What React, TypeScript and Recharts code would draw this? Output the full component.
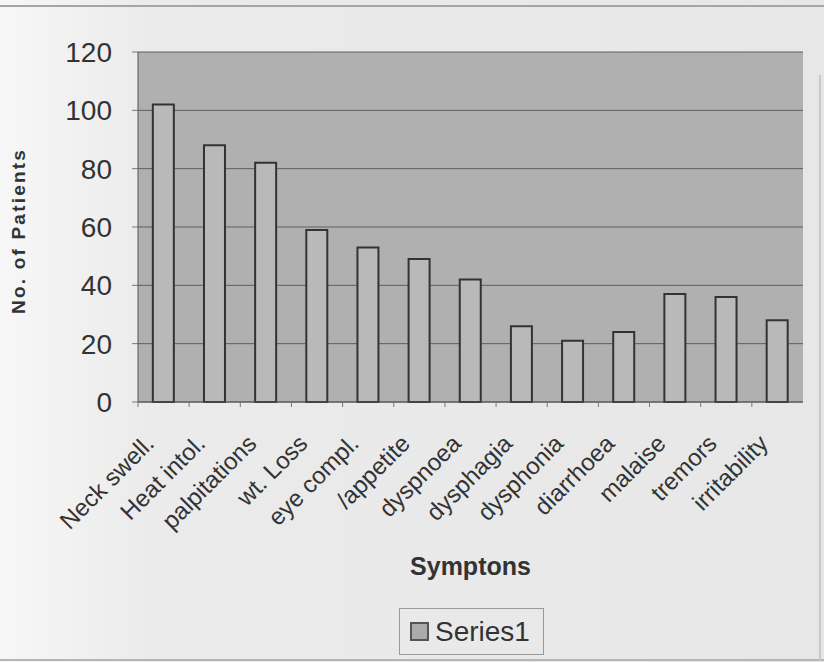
import { BarChart, Bar, XAxis, YAxis, CartesianGrid, Legend } from "recharts"

const symptoms = [
  "Neck swell.",
  "Heat intol.",
  "palpitations",
  "wt. Loss",
  "eye compl.",
  "/appetite",
  "dyspnoea",
  "dysphagia",
  "dysphonia",
  "diarrhoea",
  "malaise",
  "tremors",
  "irritability",
]

const patients = [102, 88, 82, 59, 53, 49, 42, 26, 21, 24, 37, 36, 28]

const yTicks = [0, 20, 40, 60, 80, 100, 120]

const data = symptoms.map((name, i) => ({ name, Series1: patients[i] }))

const font = "'Liberation Sans', Arial, sans-serif"

const SymptomTick = (props: any) => {
  const { x, y, payload } = props
  const half = payload.offset || 0
  return (
    <g>
      <line x1={x - half} y1={y - 5} x2={x - half} y2={y} stroke="#777" />
      <g transform={`translate(${x - 8},${y + 38})`}>
        <text
          x={0}
          y={0}
          textAnchor="end"
          transform="rotate(-45)"
          fontSize={24}
          fontFamily={font}
          fill="#333"
        >
          {payload.value}
        </text>
      </g>
    </g>
  )
}

const SeriesLegend = () => (
  <div style={{ display: "flex", justifyContent: "flex-start", paddingLeft: 399 }}>
    <div
      style={{
        display: "flex",
        alignItems: "center",
        height: 47,
        boxSizing: "border-box",
        padding: "0 13px 0 10px",
        border: "1px solid #9a9a9a",
        fontFamily: font,
        fontSize: 28,
        color: "#333",
      }}
    >
      <span
        style={{
          display: "inline-block",
          width: 15,
          height: 15,
          background: "#ababab",
          border: "2px solid #555",
          marginRight: 6,
        }}
      />
      Series1
    </div>
  </div>
)

export default function App() {
  return (
    <div
      style={{
        position: "absolute",
        left: 0,
        top: 0,
        width: 824,
        height: 662,
        background: "linear-gradient(to right, #f7f7f7 0%, #ebebeb 18%, #e7e7e7 100%)",
        overflow: "hidden",
      }}
    >
      <div style={{ position: "absolute", left: 0, top: 5, width: 824, height: 2, background: "#a5a5a5" }} />
      <div style={{ position: "absolute", left: 0, top: 659, width: 824, height: 2, background: "#b5b5b5" }} />
      <div style={{ position: "absolute", left: 819, top: 75, width: 2, height: 585, background: "#c8c8c8" }} />
      <BarChart
        width={824}
        height={662}
        data={data}
        margin={{ top: 52, right: 21, left: 0, bottom: 0 }}
        barCategoryGap="29%"
      >
        <CartesianGrid
          vertical={false}
          stroke="#5e5e5e"
          fill="#b0b0b0"
          fillOpacity={1}
        />
        <XAxis
          dataKey="name"
          interval={0}
          height={213}
          tickLine={false}
          tickSize={5}
          tickMargin={0}
          axisLine={{ stroke: "#555" }}
          tick={<SymptomTick />}
          label={{
            value: "Symptons",
            position: "insideBottom",
            offset: 40,
            fontSize: 25,
            fontWeight: "bold",
            fontFamily: font,
            fill: "#333",
          }}
        />
        <YAxis
          width={138}
          domain={[0, 120]}
          ticks={yTicks}
          interval={0}
          tickSize={6}
          tickMargin={20}
          axisLine={{ stroke: "#555" }}
          tickLine={{ stroke: "#777" }}
          tick={{ fontSize: 28, fontFamily: font, fill: "#333" }}
          label={{
            content: (p: any) => {
              const vb = p.viewBox
              const cx = vb.x + 18
              const cy = vb.y + vb.height / 2 + 4
              return (
                <text
                  x={cx}
                  y={cy}
                  textAnchor="middle"
                  dominantBaseline="central"
                  transform={`rotate(-90, ${cx}, ${cy})`}
                  fontSize={19}
                  fontWeight="bold"
                  letterSpacing={2.2}
                  fontFamily={font}
                  fill="#333"
                >
                  No. of Patients
                </text>
              )
            },
          }}
        />
        <Legend
          verticalAlign="bottom"
          content={<SeriesLegend />}
          wrapperStyle={{ bottom: 7 }}
        />
        <Bar
          dataKey="Series1"
          fill="#b9b9b9"
          stroke="#333"
          strokeWidth={2}
          isAnimationActive={false}
        />
      </BarChart>
    </div>
  )
}
